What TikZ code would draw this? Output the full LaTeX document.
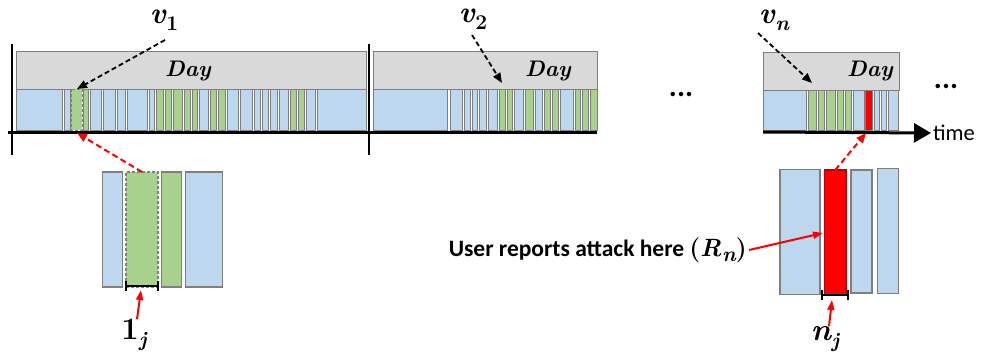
\documentclass[tikz,border=0pt]{standalone}
\usepackage{fontspec}
\newfontfamily\calibri{Carlito}
\usetikzlibrary{arrows.meta}

\definecolor{cellblue}{HTML}{BDD7EE}
\definecolor{cellgreen}{HTML}{A9D18E}
\definecolor{daygray}{HTML}{D9D9D9}
\definecolor{edgegray}{HTML}{7F7F7F}
\definecolor{alertred}{HTML}{FF0000}

% bold italic symbol with a lowered subscript (#1 base, #2 subscript)
\newcommand{\symsub}[2]{{\bfseries\itshape{#1}\kern0.5pt\raisebox{-0.22em}{\fontsize{21}{21}\selectfont{#2}}}}

\tikzset{
  cell/.style={draw=edgegray, line width=1pt},
  daybox/.style={draw=edgegray, line width=1pt, fill=daygray},
  zoomcell/.style={draw=edgegray, line width=1.2pt, inner sep=0pt, outer sep=0pt},
  timeline/.style={line width=3pt, black},
  daytick/.style={line width=2.5pt, black},
  daylabel/.style={font=\fontsize{22.5}{26}\selectfont\bfseries\itshape, inner sep=0pt},
  vlabel/.style={font=\fontsize{31}{34}\selectfont, inner sep=0pt},
  toplabel/.style={font=\fontsize{30}{33}\selectfont, inner sep=0pt, anchor=base,
                   text height=14pt, text depth=8pt},
  vpointer/.style={line width=1.8pt, black, dash pattern=on 5pt off 3pt,
                   -{Triangle[length=10pt,width=8pt]}},
  redpointer/.style={line width=2pt, alertred, dash pattern=on 6pt off 3.5pt,
                     -{Triangle[length=10pt,width=8pt]}},
  redarrow/.style={line width=2pt, alertred, -{Triangle[length=10pt,width=7pt]}},
  bracket/.style={line width=2.5pt, black},
  ellipsis/.style={font=\calibri\fontsize{30}{30}\selectfont\bfseries, inner sep=0pt}
}

\begin{document}
\begin{tikzpicture}[x=1pt, y=-1pt]
\useasboundingbox (0,0) rectangle (982,361);

% ---- day headers ----
\draw[daybox] (16,52) rectangle (366,89);
\draw[daybox] (373,52) rectangle (597,89);
\draw[daybox] (763,53) rectangle (899,90);
\node[daylabel] (day1) at (188,71) {Day};
\node[daylabel] (day2) at (548,71) {Day};
\node[daylabel] (day3) at (870,71) {Day};

% ---- activity strips: x-from / x-to / fill ----
\foreach \a/\b/\c in {16/62/cellblue, 64/70/cellblue, 83/88/cellgreen,
  90/101/cellblue, 103/115/cellblue, 117/125/cellblue, 127/147/cellblue,
  149/154/cellblue, 156/163/cellgreen, 165/171/cellgreen, 173/182/cellgreen,
  184/190/cellgreen, 192/197/cellgreen, 199/208/cellblue, 210/216/cellgreen,
  218/225/cellgreen, 227/238/cellblue, 240/252/cellblue, 254/260/cellblue,
  262/268/cellblue, 270/277/cellblue, 279/288/cellblue, 290/296/cellgreen,
  298/304/cellgreen, 306/315/cellblue, 317/366/cellblue}
  \draw[cell, fill=\c] (\a,89) rectangle (\b,130);
\draw[fill=cellgreen, draw=edgegray, line width=0.8pt, densely dashed]
  (71,89) rectangle (82,130);

\foreach \a/\b/\c in {373/447/cellblue, 450/462/cellblue, 464/470/cellblue,
  472/477/cellblue, 479/486/cellblue, 488/497/cellblue, 499/505/cellgreen,
  507/512/cellgreen, 514/523/cellblue, 525/533/cellgreen, 535/542/cellblue,
  544/550/cellgreen, 552/558/cellgreen, 560/573/cellblue, 575/580/cellgreen,
  582/588/cellgreen, 590/597/cellgreen}
  \draw[cell, fill=\c] (\a,89) rectangle (\b,130);

\foreach \a/\b/\c in {763/806/cellblue, 808/816/cellgreen, 818/824/cellgreen,
  826/835/cellgreen, 837/843/cellgreen, 845/851/cellgreen, 853/864/cellblue,
  865/872/alertred, 874/879/cellblue, 881/886/cellblue, 888/898/cellblue}
  \draw[cell, fill=\c] (\a,90) rectangle (\b,130);

% ---- time axis and day boundaries ----
\draw[timeline] (8,132) -- (597,132);
\node[font=\calibri\fontsize{22.5}{26}\selectfont, anchor=west, inner sep=2pt] (time) at (931,133) {time};
\draw[timeline, -{Triangle[length=17pt,width=19pt]}] (763,132) -- (time.west);
\draw[daytick] (12,44) -- (12,155);
\draw[daytick] (369,44) -- (369,155);

\node[ellipsis] (gap1) at (681,94) {...};
\node[ellipsis] (gap2) at (946,86) {...};

% ---- pointers to the first session of each day ----
\node[toplabel] (v1) at (164,24) {\symsub{v}{\upshape 1}};
\node[toplabel] (v2) at (473,23) {\symsub{v}{\upshape 2}};
\node[toplabel] (vn) at (774,24) {\symsub{v}{n}};
\coordinate (v1tail) at (165,40);
\coordinate (v2tail) at (472,35);
\coordinate (vntail) at (758,33);
\coordinate (v1tip) at (77,89);
\coordinate (v2tip) at (502,83);
\coordinate (vntip) at (812,83);
\draw[vpointer] (v1tail) -- (v1tip);
\draw[vpointer] (v2tail) -- (v2tip);
\draw[vpointer] (vntail) -- (vntip);

% ---- enlarged sessions, first day ----
\node[zoomcell, fill=cellblue, minimum width=20pt, minimum height=115pt] (dA) at (112.7,229.5) {};
\node[zoomcell, fill=cellgreen, densely dashed, minimum width=32pt, minimum height=115pt] (dB) at (142,229.5) {};
\node[zoomcell, fill=cellgreen, minimum width=20pt, minimum height=115pt] (dC) at (171.7,229.5) {};
\node[zoomcell, fill=cellblue, minimum width=37.4pt, minimum height=115pt] (dD) at (204,229.5) {};
\draw[bracket] (126,286) -- (158,286);
\draw[bracket] (126,281) -- (126,291);
\draw[bracket] (158,281) -- (158,291);
\node[vlabel] (onej) at (134,335) {\symsub{\upshape 1}{j}};
\coordinate (onejtip) at (141,290);
\draw[redarrow] ([xshift=3pt]onej.north) -- (onejtip);
\coordinate (s1) at (77,133);
\draw[redpointer] (dB.north) -- (s1);

% ---- enlarged sessions, last day ----
\node[zoomcell, fill=cellblue, minimum width=40pt, minimum height=125pt] (dE) at (800,231.8) {};
\node[zoomcell, fill=alertred, draw=red!75!black, minimum width=21.7pt, minimum height=124.3pt] (dF) at (835.2,232.2) {};
\node[zoomcell, fill=cellblue, minimum width=21pt, minimum height=123pt] (dG) at (861.5,231.5) {};
\node[zoomcell, fill=cellblue, minimum width=21.4pt, minimum height=125pt] (dH) at (888,230.8) {};
\draw[bracket] (822,295) -- (848,295);
\draw[bracket] (822,290) -- (822,300);
\draw[bracket] (848,290) -- (848,300);
\node[vlabel] (nj) at (825,339) {\symsub{n}{j}};
\coordinate (njtip) at (832,300);
\draw[redarrow] ([xshift=4pt]nj.north) -- (njtip);
\coordinate (sn) at (866,133);
\draw[redpointer] (dF.north) -- (sn);

\node[anchor=east, inner sep=2pt] (rep) at (749,250)
  {{\calibri\fontsize{23.5}{28}\selectfont\bfseries User reports attack here}\enspace%
   {\fontsize{25}{28}\selectfont\bfseries(\symsub{R}{n})}};
\coordinate (reptip) at (823,233);
\draw[redarrow] (rep.east) -- (reptip);
\end{tikzpicture}
\end{document}
